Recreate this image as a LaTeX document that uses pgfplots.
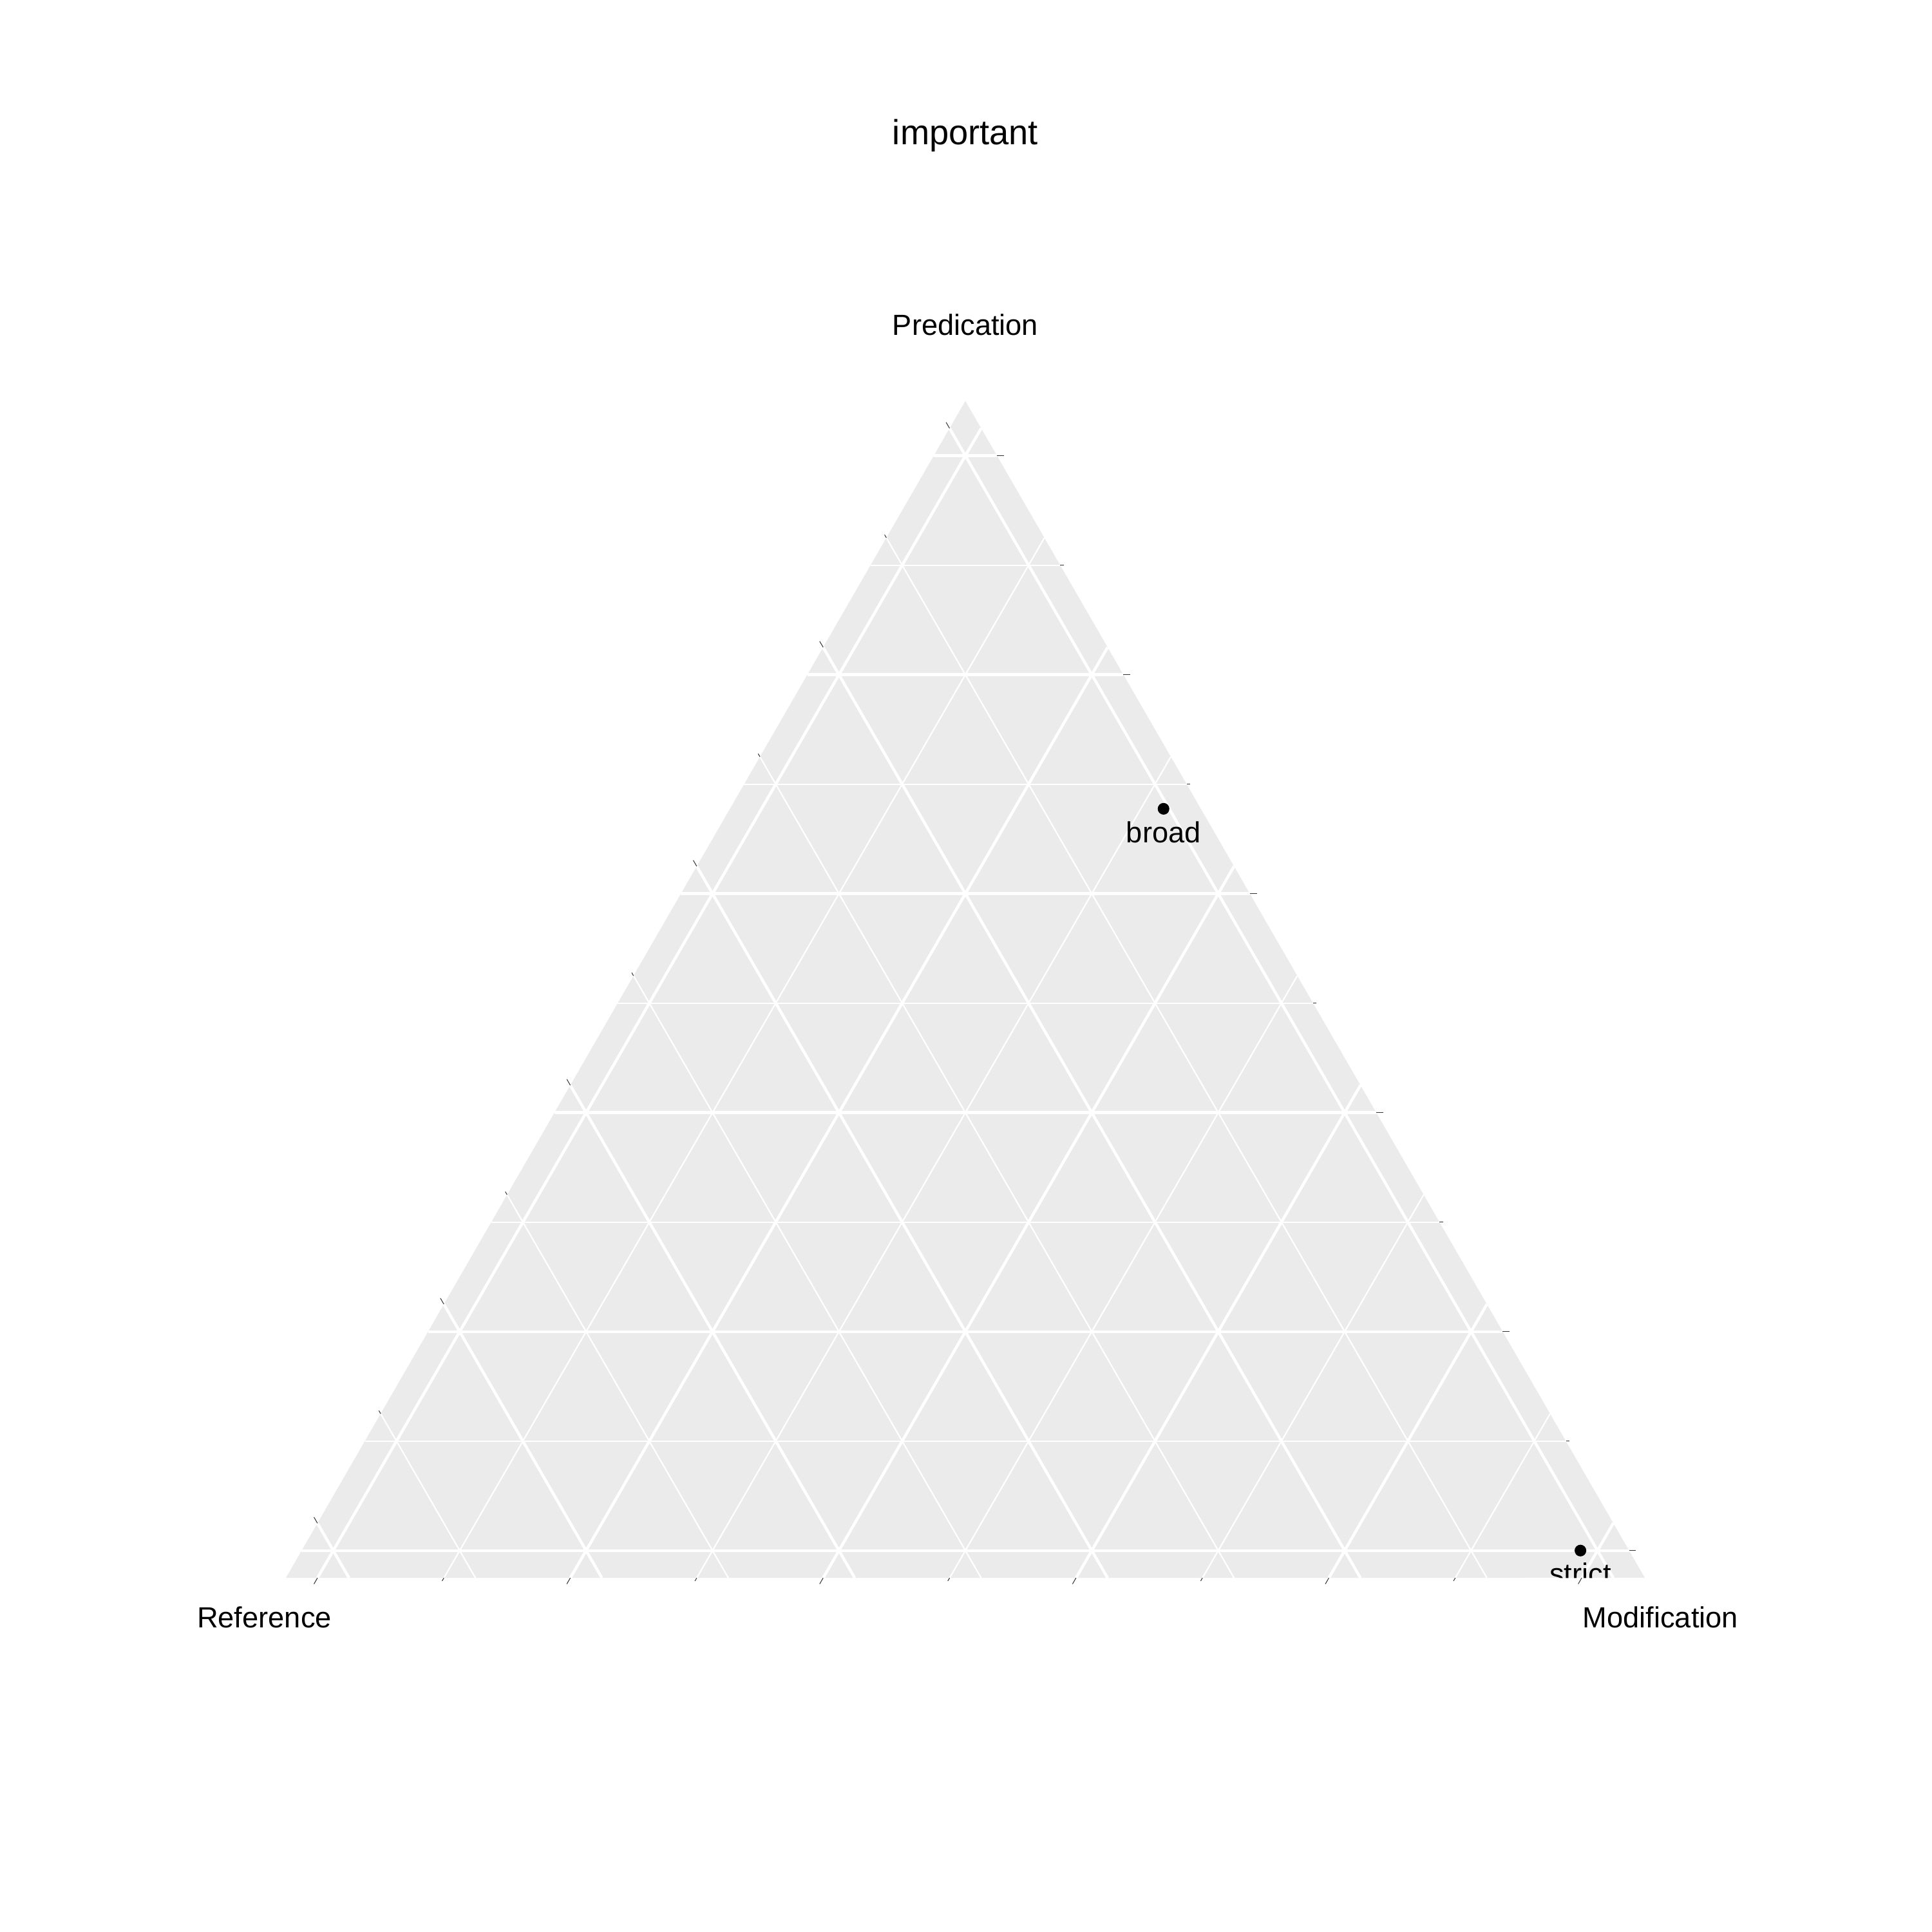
\documentclass[border=0pt]{standalone}
\usepackage{pgfplots}
\pgfplotsset{compat=1.18}
\usepackage{fontspec}
\setmainfont{Liberation Sans}
\definecolor{bg}{HTML}{EBEBEB}
\definecolor{tk}{HTML}{333333}
\begin{document}
\begin{tikzpicture}
\begin{axis}[
  set layers,
  width=730pt, height=730pt, scale only axis,
  hide axis, clip=false,
  xmin=-0.2636, xmax=1.2646, ymin=-0.3017, ymax=1.2265,
]
\path (rel axis cs:0,0) rectangle (rel axis cs:1,1);
% panel background
\addplot[fill=bg, draw=none] coordinates {(-0.0375,-0.021651) (1.0375,-0.021651) (0.5,0.909327) (-0.0375,-0.021651)};
% minor grid
\addplot[white, line width=0.53pt, quiver={u=\thisrow{u}, v=\thisrow{v}}] table {
x y u v
0.025 0.086603 0.95 0
0.125 0.259808 0.75 0
0.225 0.433013 0.55 0
0.325 0.606218 0.35 0
0.425 0.779423 0.15 0
0.9125 -0.021651 -0.475 0.822724
0.7125 -0.021651 -0.375 0.649519
0.5125 -0.021651 -0.275 0.476314
0.3125 -0.021651 -0.175 0.303109
0.1125 -0.021651 -0.075 0.129904
0.0875 -0.021651 0.475 0.822724
0.2875 -0.021651 0.375 0.649519
0.4875 -0.021651 0.275 0.476314
0.6875 -0.021651 0.175 0.303109
0.8875 -0.021651 0.075 0.129904
};
% major grid
\addplot[white, line width=1.07pt, quiver={u=\thisrow{u}, v=\thisrow{v}}] table {
x y u v
-0.025 0 1.05 0
0.075 0.173205 0.85 0
0.175 0.346410 0.65 0
0.275 0.519615 0.45 0
0.375 0.692820 0.25 0
0.475 0.866025 0.05 0
1.0125 -0.021651 -0.525 0.909327
0.8125 -0.021651 -0.425 0.736122
0.6125 -0.021651 -0.325 0.562917
0.4125 -0.021651 -0.225 0.389711
0.2125 -0.021651 -0.125 0.216506
0.0125 -0.021651 -0.025 0.043301
-0.0125 -0.021651 0.525 0.909327
0.1875 -0.021651 0.425 0.736122
0.3875 -0.021651 0.325 0.562917
0.5875 -0.021651 0.225 0.389711
0.7875 -0.021651 0.125 0.216506
0.9875 -0.021651 0.025 0.043301
};
% data points (Predication P, Modification M, Reference R)
\addplot[only marks, mark=*, mark size=2pt, black,
  nodes near coords, point meta=explicit symbolic,
  nodes near coords style={anchor=base, yshift=-12.7pt, font=\fontsize{11}{13}\selectfont, text=black, inner sep=0pt}]
  table[x expr=\thisrow{M}+0.5*\thisrow{P}, y expr=0.866025*\thisrow{P}, meta=label] {
P M R label
0.6775 0.3180 0.0045 broad
0.0000 0.9865 0.0135 strict
};
% clip label below panel
\addplot[on layer=axis foreground, fill=white, draw=none] coordinates {(0.94,-0.02175) (1.04,-0.02175) (1.04,-0.035) (0.94,-0.035) (0.94,-0.02175)};
% ticks
\addplot[on layer=axis foreground, tk, line width=0.25pt, quiver={u=0.0055, v=0}] table {
x y
1.025 0
0.925 0.173205
0.825 0.346410
0.725 0.519615
0.625 0.692820
0.525 0.866025
};
\addplot[on layer=axis foreground, tk, line width=0.25pt, quiver={u=0.0028, v=0}] table {
x y
0.975 0.086603
0.875 0.259808
0.775 0.433013
0.675 0.606218
0.575 0.779423
};
\addplot[on layer=axis foreground, tk, line width=0.25pt, quiver={u=-0.00275, v=0.004763}] table {
x y
0.4875 0.887676
0.3875 0.714471
0.2875 0.541266
0.1875 0.368061
0.0875 0.194856
-0.0125 0.021651
};
\addplot[on layer=axis foreground, tk, line width=0.25pt, quiver={u=-0.0014, v=0.002425}] table {
x y
0.4375 0.801073
0.3375 0.627868
0.2375 0.454663
0.1375 0.281458
0.0375 0.108253
};
\addplot[on layer=axis foreground, tk, line width=0.25pt, quiver={u=-0.00275, v=-0.004763}] table {
x y
-0.0125 -0.021651
0.1875 -0.021651
0.3875 -0.021651
0.5875 -0.021651
0.7875 -0.021651
0.9875 -0.021651
};
\addplot[on layer=axis foreground, tk, line width=0.25pt, quiver={u=-0.0014, v=-0.002425}] table {
x y
0.0875 -0.021651
0.2875 -0.021651
0.4875 -0.021651
0.6875 -0.021651
0.8875 -0.021651
};
% titles
\node[anchor=base, inner sep=0pt, font=\fontsize{13.2}{16}\selectfont] at (axis cs:0.5,1.1119) {important};
\node[anchor=base, inner sep=0pt, font=\fontsize{11}{13}\selectfont] at (axis cs:0.5,0.9611) {Predication};
\node[anchor=base, inner sep=0pt, font=\fontsize{11}{13}\selectfont] at (axis cs:-0.0545,-0.0611) {Reference};
\node[anchor=base, inner sep=0pt, font=\fontsize{11}{13}\selectfont] at (axis cs:1.0498,-0.0611) {Modification};
\end{axis}
\end{tikzpicture}
\end{document}
